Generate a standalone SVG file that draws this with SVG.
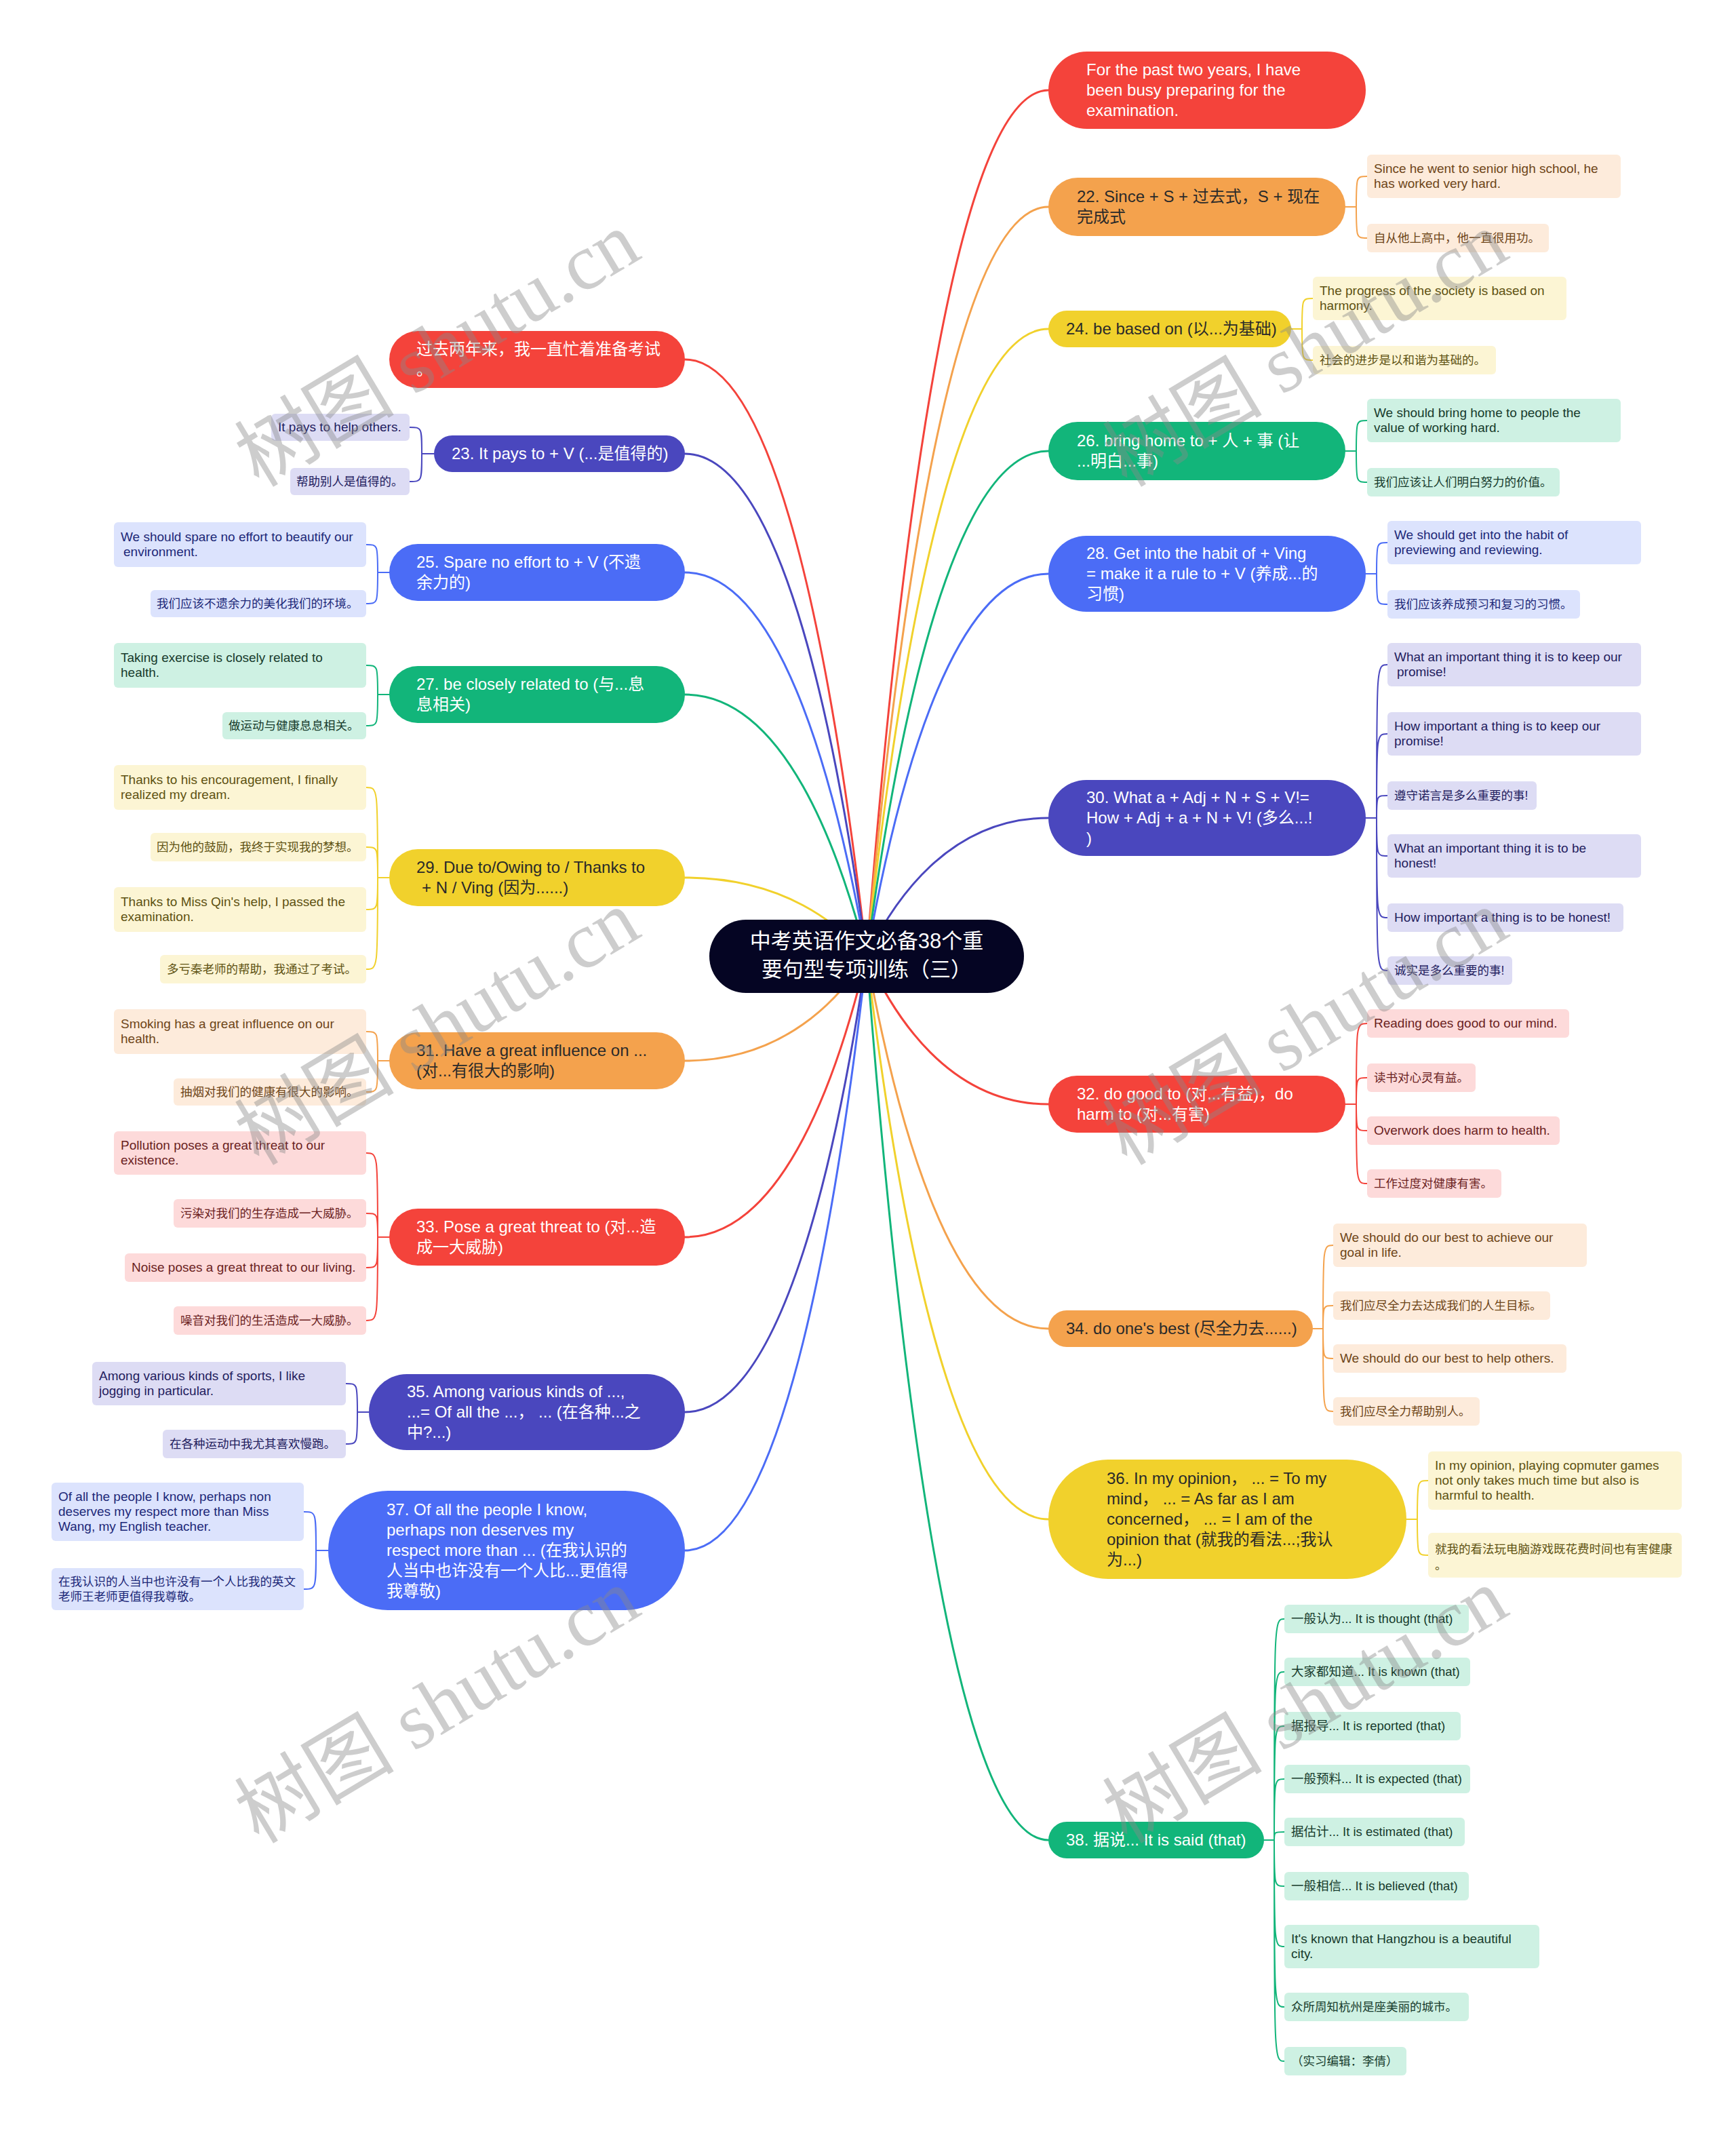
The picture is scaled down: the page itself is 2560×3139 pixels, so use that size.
<svg xmlns="http://www.w3.org/2000/svg" width="2560" height="3139" viewBox="0 0 2560 3139">
<style>
text { font-family: "Liberation Sans", "Noto Sans CJK SC", sans-serif; }
.m { font-size: 24px; }
.s { font-size: 19px; }
.s.c { font-size: 17.5px; }
.s.x { font-size: 18.5px; }
.root { font-size: 31px; fill: #ffffff; }
.w { fill: #ffffff; }
.d { fill: #2a2a2a; }
.f-red { fill: #F4433B; } .f-org { fill: #F4A24D; } .f-yel { fill: #F1D12C; }
.f-grn { fill: #12B57A; } .f-blu { fill: #4B6CF6; } .f-ind { fill: #4A47BE; }
.b-red { fill: #FDDADA; } .b-org { fill: #FDEBDB; } .b-yel { fill: #FCF5D4; }
.b-grn { fill: #CEF1E3; } .b-blu { fill: #DCE3FD; } .b-ind { fill: #DDDCF4; }
.t-red { fill: #6B1F1F; } .t-org { fill: #6E4518; } .t-yel { fill: #5E5212; }
.t-grn { fill: #173B2C; } .t-blu { fill: #1C2878; } .t-ind { fill: #23205E; }
.conn path { fill: none; stroke-width: 3; stroke-linecap: round; }
.conn path.sub { stroke-width: 2; }
.k-red { stroke: #F4433B; } .k-org { stroke: #F4A24D; } .k-yel { stroke: #F1D12C; }
.k-grn { stroke: #12B57A; } .k-blu { stroke: #4B6CF6; } .k-ind { stroke: #4A47BE; }
.wm { font-family: "Liberation Serif", "Noto Sans CJK SC", serif; font-size: 118px; fill: #8a8a8a; opacity: 0.42; }
</style>
<rect x="0" y="0" width="2560" height="3139" fill="#ffffff"/>

<g id="connectors" class="conn">
<path class="k-red" d="M1278 1410 C1318 899 1399 133 1546 133"/>
<path class="k-org" d="M1278 1410 C1318 968 1399 305 1546 305"/>
<path class="k-yel" d="M1278 1410 C1318 1040 1399 485 1546 485"/>
<path class="k-grn" d="M1278 1410 C1318 1112 1399 665 1546 665"/>
<path class="k-blu" d="M1278 1410 C1318 1184 1399 846 1546 846"/>
<path class="k-ind" d="M1278 1410 C1318 1328 1399 1206 1546 1206"/>
<path class="k-red" d="M1278 1410 C1318 1497 1399 1628 1546 1628"/>
<path class="k-org" d="M1278 1410 C1318 1630 1399 1959 1546 1959"/>
<path class="k-yel" d="M1278 1410 C1318 1742 1399 2240 1546 2240"/>
<path class="k-grn" d="M1278 1410 C1318 1931 1399 2713 1546 2713"/>
<path class="k-red" d="M1278 1410 C1238 1058 1157 530 1010 530"/>
<path class="k-ind" d="M1278 1410 C1238 1114 1157 669 1010 669"/>
<path class="k-blu" d="M1278 1410 C1238 1184 1157 844 1010 844"/>
<path class="k-grn" d="M1278 1410 C1238 1256 1157 1024 1010 1024"/>
<path class="k-yel" d="M1278 1410 C1238 1364 1157 1294 1010 1294"/>
<path class="k-org" d="M1278 1410 C1238 1472 1157 1564 1010 1564"/>
<path class="k-red" d="M1278 1410 C1238 1576 1157 1824 1010 1824"/>
<path class="k-ind" d="M1278 1410 C1238 1679 1157 2082 1010 2082"/>
<path class="k-blu" d="M1278 1410 C1238 1760 1157 2286 1010 2286"/>
<path class="sub k-org" d="M1984 305 H2000 M2000 305 C2000 260 2000 260 2016 260 M2000 305 C2000 351 2000 351 2016 351"/>
<path class="sub k-yel" d="M1904 485 H1920 M1920 485 C1920 440 1920 440 1936 440 M1920 485 C1920 531 1920 531 1936 531"/>
<path class="sub k-grn" d="M1984 665 H2000 M2000 665 C2000 620 2000 620 2016 620 M2000 665 C2000 711 2000 711 2016 711"/>
<path class="sub k-blu" d="M2014 846 H2030 M2030 846 C2030 800 2030 800 2046 800 M2030 846 C2030 891 2030 891 2046 891"/>
<path class="sub k-ind" d="M2014 1206 H2030 M2030 1206 C2030 980 2030 980 2046 980 M2030 1206 C2030 1082 2030 1082 2046 1082 M2030 1206 C2030 1173 2030 1173 2046 1173 M2030 1206 C2030 1262 2030 1262 2046 1262 M2030 1206 C2030 1353 2030 1353 2046 1353 M2030 1206 C2030 1431 2030 1431 2046 1431"/>
<path class="sub k-red" d="M1984 1628 H2000 M2000 1628 C2000 1509 2000 1509 2016 1509 M2000 1628 C2000 1589 2000 1589 2016 1589 M2000 1628 C2000 1667 2000 1667 2016 1667 M2000 1628 C2000 1745 2000 1745 2016 1745"/>
<path class="sub k-org" d="M1936 1959 H1951 M1951 1959 C1951 1836 1951 1836 1966 1836 M1951 1959 C1951 1925 1951 1925 1966 1925 M1951 1959 C1951 2003 1951 2003 1966 2003 M1951 1959 C1951 2081 1951 2081 1966 2081"/>
<path class="sub k-yel" d="M2074 2240 H2090 M2090 2240 C2090 2183 2090 2183 2106 2183 M2090 2240 C2090 2293 2090 2293 2106 2293"/>
<path class="sub k-grn" d="M1864 2713 H1879 M1879 2713 C1879 2387 1879 2387 1894 2387 M1879 2713 C1879 2465 1879 2465 1894 2465 M1879 2713 C1879 2545 1879 2545 1894 2545 M1879 2713 C1879 2623 1879 2623 1894 2623 M1879 2713 C1879 2701 1879 2701 1894 2701 M1879 2713 C1879 2781 1879 2781 1894 2781 M1879 2713 C1879 2870 1879 2870 1894 2870 M1879 2713 C1879 2959 1879 2959 1894 2959 M1879 2713 C1879 3039 1879 3039 1894 3039"/>
<path class="sub k-ind" d="M640 669 H622 M622 669 C622 630 622 630 604 630 M622 669 C622 710 622 710 604 710"/>
<path class="sub k-blu" d="M574 844 H557 M557 844 C557 803 557 803 540 803 M557 844 C557 890 557 890 540 890"/>
<path class="sub k-grn" d="M574 1024 H557 M557 1024 C557 981 557 981 540 981 M557 1024 C557 1070 557 1070 540 1070"/>
<path class="sub k-yel" d="M574 1294 H557 M557 1294 C557 1161 557 1161 540 1161 M557 1294 C557 1249 557 1249 540 1249 M557 1294 C557 1341 557 1341 540 1341 M557 1294 C557 1429 557 1429 540 1429"/>
<path class="sub k-org" d="M574 1564 H557 M557 1564 C557 1521 557 1521 540 1521 M557 1564 C557 1610 557 1610 540 1610"/>
<path class="sub k-red" d="M574 1824 H557 M557 1824 C557 1700 557 1700 540 1700 M557 1824 C557 1789 557 1789 540 1789 M557 1824 C557 1869 557 1869 540 1869 M557 1824 C557 1947 557 1947 540 1947"/>
<path class="sub k-ind" d="M544 2082 H527 M527 2082 C527 2040 527 2040 510 2040 M527 2082 C527 2129 527 2129 510 2129"/>
<path class="sub k-blu" d="M484 2286 H466 M466 2286 C466 2229 466 2229 448 2229 M466 2286 C466 2343 466 2343 448 2343"/>
</g>

<g id="n-root">
<rect x="1046" y="1356" width="464" height="108" rx="54" fill="#050523"/>
<text class="root" x="1278" y="1398" text-anchor="middle">中考英语作文必备38个重</text>
<text class="root" x="1278" y="1440" text-anchor="middle">要句型专项训练（三）</text>
</g>

<g id="n-r1">
<rect class="f-red" x="1546" y="76" width="468" height="114" rx="57"/>
<text class="m w"><tspan x="1602" y="111">For the past two years, I have</tspan><tspan x="1602" y="141">been busy preparing for the</tspan><tspan x="1602" y="171">examination.</tspan></text>
</g>
<g id="n-r2">
<rect class="f-org" x="1546" y="262" width="438" height="86" rx="43"/>
<text class="m d"><tspan x="1588" y="298">22. Since + S + 过去式，S + 现在</tspan><tspan x="1588" y="328">完成式</tspan></text>
</g>
<g id="n-r2-c1"><rect class="b-org" x="2016" y="228" width="374" height="64" rx="6"/><text class="s t-org"><tspan x="2026" y="255">Since he went to senior high school, he</tspan><tspan x="2026" y="277">has worked very hard.</tspan></text></g>
<g id="n-r2-c2"><rect class="b-org" x="2016" y="330" width="268" height="42" rx="6"/><text class="s c t-org" x="2026" y="357">自从他上高中，他一直很用功。</text></g>

<g id="n-r3">
<rect class="f-yel" x="1546" y="458" width="358" height="54" rx="27"/>
<text class="m d" x="1572" y="493">24. be based on (以...为基础)</text>
</g>
<g id="n-r3-c1"><rect class="b-yel" x="1936" y="408" width="374" height="64" rx="6"/><text class="s t-yel"><tspan x="1946" y="435">The progress of the society is based on</tspan><tspan x="1946" y="457">harmony.</tspan></text></g>
<g id="n-r3-c2"><rect class="b-yel" x="1936" y="510" width="270" height="42" rx="6"/><text class="s c t-yel" x="1946" y="537">社会的进步是以和谐为基础的。</text></g>

<g id="n-r4">
<rect class="f-grn" x="1546" y="622" width="438" height="86" rx="43"/>
<text class="m w"><tspan x="1588" y="658">26. bring home to + 人 + 事 (让</tspan><tspan x="1588" y="688">...明白...事)</tspan></text>
</g>
<g id="n-r4-c1"><rect class="b-grn" x="2016" y="588" width="374" height="64" rx="6"/><text class="s t-grn"><tspan x="2026" y="615">We should bring home to people the</tspan><tspan x="2026" y="637">value of working hard.</tspan></text></g>
<g id="n-r4-c2"><rect class="b-grn" x="2016" y="690" width="284" height="42" rx="6"/><text class="s c t-grn" x="2026" y="717">我们应该让人们明白努力的价值。</text></g>

<g id="n-r5">
<rect class="f-blu" x="1546" y="790" width="468" height="112" rx="56"/>
<text class="m w"><tspan x="1602" y="824">28. Get into the habit of + Ving</tspan><tspan x="1602" y="854">= make it a rule to + V (养成...的</tspan><tspan x="1602" y="884">习惯)</tspan></text>
</g>
<g id="n-r5-c1"><rect class="b-blu" x="2046" y="768" width="374" height="64" rx="6"/><text class="s t-blu"><tspan x="2056" y="795">We should get into the habit of</tspan><tspan x="2056" y="817">previewing and reviewing.</tspan></text></g>
<g id="n-r5-c2"><rect class="b-blu" x="2046" y="870" width="284" height="42" rx="6"/><text class="s c t-blu" x="2056" y="897">我们应该养成预习和复习的习惯。</text></g>

<g id="n-r6">
<rect class="f-ind" x="1546" y="1150" width="468" height="112" rx="56"/>
<text class="m w"><tspan x="1602" y="1184">30. What a + Adj + N + S + V!=</tspan><tspan x="1602" y="1214">How + Adj + a + N + V! (多么...!</tspan><tspan x="1602" y="1244">)</tspan></text>
</g>
<g id="n-r6-c1"><rect class="b-ind" x="2046" y="948" width="374" height="64" rx="6"/><text class="s t-ind"><tspan x="2056" y="975">What an important thing it is to keep our</tspan><tspan x="2060" y="997">promise!</tspan></text></g>
<g id="n-r6-c2"><rect class="b-ind" x="2046" y="1050" width="374" height="64" rx="6"/><text class="s t-ind"><tspan x="2056" y="1077">How important a thing is to keep our</tspan><tspan x="2056" y="1099">promise!</tspan></text></g>
<g id="n-r6-c3"><rect class="b-ind" x="2046" y="1152" width="220" height="42" rx="6"/><text class="s c t-ind" x="2056" y="1179">遵守诺言是多么重要的事!</text></g>
<g id="n-r6-c4"><rect class="b-ind" x="2046" y="1230" width="374" height="64" rx="6"/><text class="s t-ind"><tspan x="2056" y="1257">What an important thing it is to be</tspan><tspan x="2056" y="1279">honest!</tspan></text></g>
<g id="n-r6-c5"><rect class="b-ind" x="2046" y="1332" width="348" height="42" rx="6"/><text class="s t-ind" x="2056" y="1359">How important a thing is to be honest!</text></g>
<g id="n-r6-c6"><rect class="b-ind" x="2046" y="1410" width="184" height="42" rx="6"/><text class="s c t-ind" x="2056" y="1437">诚实是多么重要的事!</text></g>

<g id="n-r7">
<rect class="f-red" x="1546" y="1586" width="438" height="84" rx="42"/>
<text class="m w"><tspan x="1588" y="1621">32. do good to (对...有益)，do</tspan><tspan x="1588" y="1651">harm to (对...有害)</tspan></text>
</g>
<g id="n-r7-c1"><rect class="b-red" x="2016" y="1488" width="298" height="42" rx="6"/><text class="s t-red" x="2026" y="1515">Reading does good to our mind.</text></g>
<g id="n-r7-c2"><rect class="b-red" x="2016" y="1568" width="160" height="42" rx="6"/><text class="s c t-red" x="2026" y="1595">读书对心灵有益。</text></g>
<g id="n-r7-c3"><rect class="b-red" x="2016" y="1646" width="284" height="42" rx="6"/><text class="s t-red" x="2026" y="1673">Overwork does harm to health.</text></g>
<g id="n-r7-c4"><rect class="b-red" x="2016" y="1724" width="198" height="42" rx="6"/><text class="s c t-red" x="2026" y="1751">工作过度对健康有害。</text></g>

<g id="n-r8">
<rect class="f-org" x="1546" y="1932" width="390" height="54" rx="27"/>
<text class="m d" x="1572" y="1967">34. do one's best (尽全力去......)</text>
</g>
<g id="n-r8-c1"><rect class="b-org" x="1966" y="1804" width="374" height="64" rx="6"/><text class="s t-org"><tspan x="1976" y="1831">We should do our best to achieve our</tspan><tspan x="1976" y="1853">goal in life.</tspan></text></g>
<g id="n-r8-c2"><rect class="b-org" x="1966" y="1904" width="320" height="42" rx="6"/><text class="s c t-org" x="1976" y="1931">我们应尽全力去达成我们的人生目标。</text></g>
<g id="n-r8-c3"><rect class="b-org" x="1966" y="1982" width="344" height="42" rx="6"/><text class="s t-org" x="1976" y="2009">We should do our best to help others.</text></g>
<g id="n-r8-c4"><rect class="b-org" x="1966" y="2060" width="216" height="42" rx="6"/><text class="s c t-org" x="1976" y="2087">我们应尽全力帮助别人。</text></g>

<g id="n-r9">
<rect class="f-yel" x="1546" y="2152" width="528" height="176" rx="88"/>
<text class="m d"><tspan x="1632" y="2188">36. In my opinion，  ... = To my</tspan><tspan x="1632" y="2218">mind，  ... = As far as I am</tspan><tspan x="1632" y="2248">concerned，  ... = I am of the</tspan><tspan x="1632" y="2278">opinion that (就我的看法...;我认</tspan><tspan x="1632" y="2308">为...)</tspan></text>
</g>
<g id="n-r9-c1"><rect class="b-yel" x="2106" y="2140" width="374" height="86" rx="6"/><text class="s t-yel"><tspan x="2116" y="2167">In my opinion, playing copmuter games</tspan><tspan x="2116" y="2189">not only takes much time but also is</tspan><tspan x="2116" y="2211">harmful to health.</tspan></text></g>
<g id="n-r9-c2"><rect class="b-yel" x="2106" y="2260" width="374" height="66" rx="6"/><text class="s c t-yel"><tspan x="2116" y="2290">就我的看法玩电脑游戏既花费时间也有害健康</tspan><tspan x="2116" y="2314">。</tspan></text></g>

<g id="n-r10">
<rect class="f-grn" x="1546" y="2686" width="318" height="54" rx="27"/>
<text class="m w" x="1572" y="2721">38. 据说... It is said (that)</text>
</g>
<g id="n-r10-c1"><rect class="b-grn" x="1894" y="2366" width="272" height="42" rx="6"/><text class="s x t-grn" x="1904" y="2393">一般认为... It is thought (that)</text></g>
<g id="n-r10-c2"><rect class="b-grn" x="1894" y="2444" width="274" height="42" rx="6"/><text class="s x t-grn" x="1904" y="2471">大家都知道... It is known (that)</text></g>
<g id="n-r10-c3"><rect class="b-grn" x="1894" y="2524" width="260" height="42" rx="6"/><text class="s x t-grn" x="1904" y="2551">据报导... It is reported (that)</text></g>
<g id="n-r10-c4"><rect class="b-grn" x="1894" y="2602" width="274" height="42" rx="6"/><text class="s x t-grn" x="1904" y="2629">一般预料... It is expected (that)</text></g>
<g id="n-r10-c5"><rect class="b-grn" x="1894" y="2680" width="266" height="42" rx="6"/><text class="s x t-grn" x="1904" y="2707">据估计... It is estimated (that)</text></g>
<g id="n-r10-c6"><rect class="b-grn" x="1894" y="2760" width="272" height="42" rx="6"/><text class="s x t-grn" x="1904" y="2787">一般相信... It is believed (that)</text></g>
<g id="n-r10-c7"><rect class="b-grn" x="1894" y="2838" width="376" height="64" rx="6"/><text class="s t-grn"><tspan x="1904" y="2865">It's known that Hangzhou is a beautiful</tspan><tspan x="1904" y="2887">city.</tspan></text></g>
<g id="n-r10-c8"><rect class="b-grn" x="1894" y="2938" width="272" height="42" rx="6"/><text class="s c t-grn" x="1904" y="2965">众所周知杭州是座美丽的城市。</text></g>
<g id="n-r10-c9"><rect class="b-grn" x="1894" y="3018" width="180" height="42" rx="6"/><text class="s c t-grn" x="1904" y="3045">（实习编辑：李倩）</text></g>

<g id="n-l1">
<rect class="f-red" x="574" y="488" width="436" height="84" rx="42"/>
<text class="m w"><tspan x="614" y="523">过去两年来，我一直忙着准备考试</tspan><tspan x="614" y="553">。</tspan></text>
</g>

<g id="n-l2">
<rect class="f-ind" x="640" y="642" width="370" height="54" rx="27"/>
<text class="m w" x="666" y="677">23. It pays to + V (...是值得的)</text>
</g>
<g id="n-l2-c1"><rect class="b-ind" x="400" y="610" width="204" height="40" rx="6"/><text class="s t-ind" x="410" y="636">It pays to help others.</text></g>
<g id="n-l2-c2"><rect class="b-ind" x="428" y="690" width="176" height="40" rx="6"/><text class="s c t-ind" x="437" y="716">帮助别人是值得的。</text></g>

<g id="n-l3">
<rect class="f-blu" x="574" y="802" width="436" height="84" rx="42"/>
<text class="m w"><tspan x="614" y="837">25. Spare no effort to + V (不遗</tspan><tspan x="614" y="867">余力的)</tspan></text>
</g>
<g id="n-l3-c1"><rect class="b-blu" x="168" y="770" width="372" height="66" rx="6"/><text class="s t-blu"><tspan x="178" y="798">We should spare no effort to beautify our</tspan><tspan x="182" y="820">environment.</tspan></text></g>
<g id="n-l3-c2"><rect class="b-blu" x="222" y="870" width="318" height="40" rx="6"/><text class="s c t-blu" x="231" y="896">我们应该不遗余力的美化我们的环境。</text></g>

<g id="n-l4">
<rect class="f-grn" x="574" y="982" width="436" height="84" rx="42"/>
<text class="m w"><tspan x="614" y="1017">27. be closely related to (与...息</tspan><tspan x="614" y="1047">息相关)</tspan></text>
</g>
<g id="n-l4-c1"><rect class="b-grn" x="168" y="948" width="372" height="66" rx="6"/><text class="s t-grn"><tspan x="178" y="976">Taking exercise is closely related to</tspan><tspan x="178" y="998">health.</tspan></text></g>
<g id="n-l4-c2"><rect class="b-grn" x="328" y="1050" width="212" height="40" rx="6"/><text class="s c t-grn" x="337" y="1076">做运动与健康息息相关。</text></g>

<g id="n-l5">
<rect class="f-yel" x="574" y="1252" width="436" height="84" rx="42"/>
<text class="m d"><tspan x="614" y="1287">29. Due to/Owing to / Thanks to</tspan><tspan x="622" y="1317">+ N / Ving (因为......)</tspan></text>
</g>
<g id="n-l5-c1"><rect class="b-yel" x="168" y="1128" width="372" height="66" rx="6"/><text class="s t-yel"><tspan x="178" y="1156">Thanks to his encouragement, I finally</tspan><tspan x="178" y="1178">realized my dream.</tspan></text></g>
<g id="n-l5-c2"><rect class="b-yel" x="222" y="1228" width="318" height="42" rx="6"/><text class="s c t-yel" x="231" y="1255">因为他的鼓励，我终于实现我的梦想。</text></g>
<g id="n-l5-c3"><rect class="b-yel" x="168" y="1308" width="372" height="66" rx="6"/><text class="s t-yel"><tspan x="178" y="1336">Thanks to Miss Qin's help, I passed the</tspan><tspan x="178" y="1358">examination.</tspan></text></g>
<g id="n-l5-c4"><rect class="b-yel" x="236" y="1408" width="304" height="42" rx="6"/><text class="s c t-yel" x="246" y="1435">多亏秦老师的帮助，我通过了考试。</text></g>

<g id="n-l6">
<rect class="f-org" x="574" y="1522" width="436" height="84" rx="42"/>
<text class="m d"><tspan x="614" y="1557">31. Have a great influence on ...</tspan><tspan x="614" y="1587">(对...有很大的影响)</tspan></text>
</g>
<g id="n-l6-c1"><rect class="b-org" x="168" y="1488" width="372" height="66" rx="6"/><text class="s t-org"><tspan x="178" y="1516">Smoking has a great influence on our</tspan><tspan x="178" y="1538">health.</tspan></text></g>
<g id="n-l6-c2"><rect class="b-org" x="256" y="1590" width="284" height="40" rx="6"/><text class="s c t-org" x="266" y="1616">抽烟对我们的健康有很大的影响。</text></g>

<g id="n-l7">
<rect class="f-red" x="574" y="1782" width="436" height="84" rx="42"/>
<text class="m w"><tspan x="614" y="1817">33. Pose a great threat to (对...造</tspan><tspan x="614" y="1847">成一大威胁)</tspan></text>
</g>
<g id="n-l7-c1"><rect class="b-red" x="168" y="1668" width="372" height="64" rx="6"/><text class="s t-red"><tspan x="178" y="1695">Pollution poses a great threat to our</tspan><tspan x="178" y="1717">existence.</tspan></text></g>
<g id="n-l7-c2"><rect class="b-red" x="256" y="1768" width="284" height="42" rx="6"/><text class="s c t-red" x="266" y="1795">污染对我们的生存造成一大威胁。</text></g>
<g id="n-l7-c3"><rect class="b-red" x="184" y="1848" width="356" height="42" rx="6"/><text class="s t-red" x="194" y="1875">Noise poses a great threat to our living.</text></g>
<g id="n-l7-c4"><rect class="b-red" x="256" y="1926" width="284" height="42" rx="6"/><text class="s c t-red" x="266" y="1953">噪音对我们的生活造成一大威胁。</text></g>

<g id="n-l8">
<rect class="f-ind" x="544" y="2026" width="466" height="112" rx="56"/>
<text class="m w"><tspan x="600" y="2060">35. Among various kinds of ...,</tspan><tspan x="600" y="2090">...= Of all the ...，  ... (在各种...之</tspan><tspan x="600" y="2120">中?...)</tspan></text>
</g>
<g id="n-l8-c1"><rect class="b-ind" x="136" y="2008" width="374" height="64" rx="6"/><text class="s t-ind"><tspan x="146" y="2035">Among various kinds of sports, I like</tspan><tspan x="146" y="2057">jogging in particular.</tspan></text></g>
<g id="n-l8-c2"><rect class="b-ind" x="240" y="2108" width="270" height="42" rx="6"/><text class="s c t-ind" x="250" y="2135">在各种运动中我尤其喜欢慢跑。</text></g>

<g id="n-l9">
<rect class="f-blu" x="484" y="2198" width="526" height="176" rx="88"/>
<text class="m w"><tspan x="570" y="2234">37. Of all the people I know,</tspan><tspan x="570" y="2264">perhaps non deserves my</tspan><tspan x="570" y="2294">respect more than ... (在我认识的</tspan><tspan x="570" y="2324">人当中也许没有一个人比...更值得</tspan><tspan x="570" y="2354">我尊敬)</tspan></text>
</g>
<g id="n-l9-c1"><rect class="b-blu" x="76" y="2186" width="372" height="86" rx="6"/><text class="s t-blu"><tspan x="86" y="2213">Of all the people I know,  perhaps non</tspan><tspan x="86" y="2235">deserves my respect more than Miss</tspan><tspan x="86" y="2257">Wang, my English teacher.</tspan></text></g>
<g id="n-l9-c2"><rect class="b-blu" x="76" y="2312" width="372" height="62" rx="6"/><text class="s c t-blu"><tspan x="86" y="2338">在我认识的人当中也许没有一个人比我的英文</tspan><tspan x="86" y="2360">老师王老师更值得我尊敬。</tspan></text></g>

<g id="watermarks">
<text class="wm" x="645" y="555" text-anchor="middle" transform="rotate(-31 645 515)">树图 shutu.cn</text>
<text class="wm" x="1925" y="555" text-anchor="middle" transform="rotate(-31 1925 515)">树图 shutu.cn</text>
<text class="wm" x="645" y="1555" text-anchor="middle" transform="rotate(-31 645 1515)">树图 shutu.cn</text>
<text class="wm" x="1925" y="1555" text-anchor="middle" transform="rotate(-31 1925 1515)">树图 shutu.cn</text>
<text class="wm" x="645" y="2555" text-anchor="middle" transform="rotate(-31 645 2515)">树图 shutu.cn</text>
<text class="wm" x="1925" y="2555" text-anchor="middle" transform="rotate(-31 1925 2515)">树图 shutu.cn</text>
</g>
</svg>
